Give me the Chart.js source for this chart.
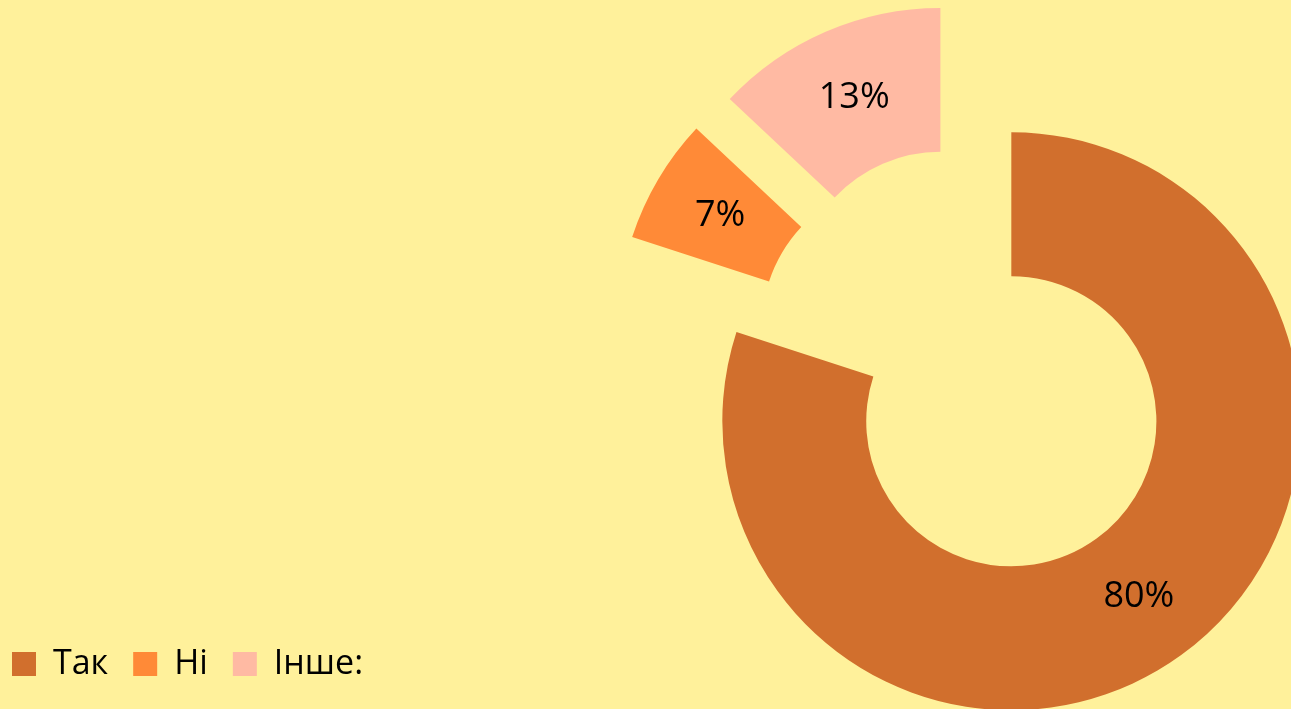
<!DOCTYPE html>
<html>
<head>
<meta charset="utf-8">
<script src="https://cdn.jsdelivr.net/npm/chart.js@4/dist/chart.umd.min.js"></script>
<style>
  html, body { margin: 0; padding: 0; background: #FFF19B; overflow: hidden; }
  canvas { display: block; }
</style>
</head>
<body>
<canvas id="c" width="1291" height="709"></canvas>
<script>
const categories = ['Так', 'Ні', 'Інше:'];
const values = [80, 7, 13];
const colors = ['#D16F2D', '#FF8A37', '#FFBAA3'];

// Arc element whose "explode" option moves the slice outward (pure translation, like Excel)
class ExplodedArc extends Chart.ArcElement {
  draw(ctx) {
    const e = this.options.explode || 0;
    const half = (this.startAngle + this.endAngle) / 2;
    ctx.save();
    ctx.translate(Math.cos(half) * e, Math.sin(half) * e);
    super.draw(ctx);
    ctx.restore();
  }
}
ExplodedArc.id = 'explodedArc';
ExplodedArc.defaults = Object.assign({}, Chart.ArcElement.defaults, { explode: 0 });
Chart.register(ExplodedArc);
Chart.defaults.datasets.doughnut.dataElementType = 'explodedArc';

const total = values.reduce((a, b) => a + b, 0);

const labelPlugin = {
  id: 'pctLabels',
  afterDatasetsDraw(chart) {
    const ctx = chart.ctx;
    const meta = chart.getDatasetMeta(0);
    ctx.save();
    ctx.font = '36px "Open Sans"';
    ctx.fillStyle = '#000';
    ctx.textAlign = 'center';
    ctx.textBaseline = 'middle';
    meta.data.forEach((arc, i) => {
      const p = arc.getProps(['x', 'y', 'startAngle', 'endAngle', 'innerRadius', 'outerRadius'], true);
      const half = (p.startAngle + p.endAngle) / 2;
      const r = (p.innerRadius + p.outerRadius) / 2 + (arc.options.explode || 0);
      const pct = Math.round(values[i] / total * 100) + '%';
      ctx.fillText(pct, p.x + Math.cos(half) * r, p.y + Math.sin(half) * r);
    });
    ctx.restore();
  }
};

new Chart(document.getElementById('c'), {
  type: 'doughnut',
  data: {
    labels: categories,
    datasets: [{
      data: values,
      backgroundColor: colors,
      borderWidth: 0,
      explode: 72,
      hoverOffset: 0
    }]
  },
  options: {
    responsive: false,
    animation: false,
    radius: 289,
    cutout: '50.2%',
    layout: { padding: { left: -13, right: 0, top: 104, bottom: 18 } },
    plugins: {
      title: {
        display: true,
        text: '',
        position: 'left',
        font: { size: 1, lineHeight: 1 },
        padding: { top: 659, bottom: 0 }
      },
      legend: {
        position: 'bottom',
        align: 'start',
        labels: {
          boxWidth: 24,
          boxHeight: 24,
          padding: 25,
          color: '#000',
          font: { family: '"Open Sans"', size: 34 }
        }
      },
      tooltip: { enabled: false }
    }
  },
  plugins: [labelPlugin]
});
</script>
</body>
</html>
